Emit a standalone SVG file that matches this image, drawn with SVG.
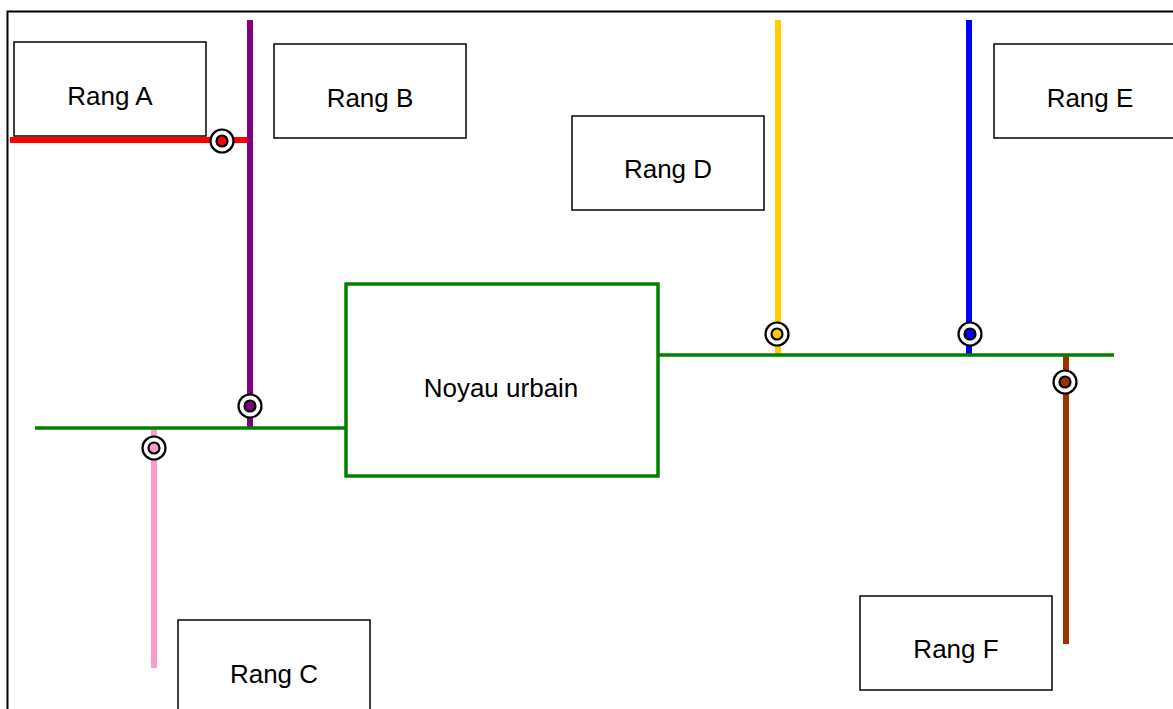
<svg xmlns="http://www.w3.org/2000/svg" width="1173" height="709" viewBox="0 0 1173 709">
<style>
.box{fill:#fff;stroke:#000;stroke-width:1.5}
.lbl{font-family:"Liberation Sans",Arial,sans-serif;font-size:26px;fill:#000;text-anchor:middle;dominant-baseline:central}
.ln{fill:none;stroke-linecap:butt}
.so{fill:#fff;stroke:#000;stroke-width:2.2}
.si{stroke:#000;stroke-width:2.2}
</style>
<rect x="0" y="0" width="1173" height="709" fill="#fff"/>
<rect x="7.5" y="11.5" width="1180" height="710" fill="none" stroke="#000" stroke-width="2"/>
<g id="connectors">
<line class="ln" x1="10" y1="140" x2="250" y2="140" stroke="#ff0000" stroke-width="6"/>
<line class="ln" x1="250" y1="20" x2="250" y2="428" stroke="#800080" stroke-width="6"/>
<line class="ln" x1="154" y1="428" x2="154" y2="668" stroke="#ff99cc" stroke-width="6"/>
<line class="ln" x1="778" y1="20" x2="778" y2="355" stroke="#ffcc00" stroke-width="6"/>
<line class="ln" x1="969" y1="20" x2="969" y2="355" stroke="#0000ff" stroke-width="6"/>
<line class="ln" x1="1066" y1="355" x2="1066" y2="644" stroke="#993300" stroke-width="6"/>
<line class="ln" x1="35" y1="428" x2="346" y2="428" stroke="#008000" stroke-width="3.5"/>
<line class="ln" x1="658" y1="355" x2="1114" y2="355" stroke="#008000" stroke-width="3.5"/>
</g>
<g id="rangA"><rect class="box" x="14" y="42" width="192" height="94"/><text class="lbl" x="110" y="96">Rang A</text></g>
<g id="rangB"><rect class="box" x="274" y="44" width="192" height="94"/><text class="lbl" x="370" y="98">Rang B</text></g>
<g id="rangC"><rect class="box" x="178" y="620" width="192" height="94"/><text class="lbl" x="274" y="674">Rang C</text></g>
<g id="rangD"><rect class="box" x="572" y="116" width="192" height="94"/><text class="lbl" x="668" y="169">Rang D</text></g>
<g id="rangE"><rect class="box" x="994" y="44" width="192" height="94"/><text class="lbl" x="1090" y="98">Rang E</text></g>
<g id="rangF"><rect class="box" x="860" y="596" width="192" height="94"/><text class="lbl" x="956" y="649">Rang F</text></g>
<g id="noyau"><rect x="346" y="284" width="312" height="192" fill="#fff" stroke="#008000" stroke-width="3.5"/><text class="lbl" x="501" y="388">Noyau urbain</text></g>
<g id="stations">
<circle class="so" cx="222" cy="141" r="11.5"/><circle class="si" cx="222" cy="141" r="5.5" fill="#ff0000"/>
<circle class="so" cx="250" cy="406" r="11.5"/><circle class="si" cx="250" cy="406" r="5.5" fill="#800080"/>
<circle class="so" cx="154" cy="448" r="11.5"/><circle class="si" cx="154" cy="448" r="5.5" fill="#ff99cc"/>
<circle class="so" cx="777" cy="334" r="11.5"/><circle class="si" cx="777" cy="334" r="5.5" fill="#ffcc00"/>
<circle class="so" cx="970" cy="334" r="11.5"/><circle class="si" cx="970" cy="334" r="5.5" fill="#0000ff"/>
<circle class="so" cx="1065" cy="382" r="11.5"/><circle class="si" cx="1065" cy="382" r="5.5" fill="#993300"/>
</g>
</svg>
